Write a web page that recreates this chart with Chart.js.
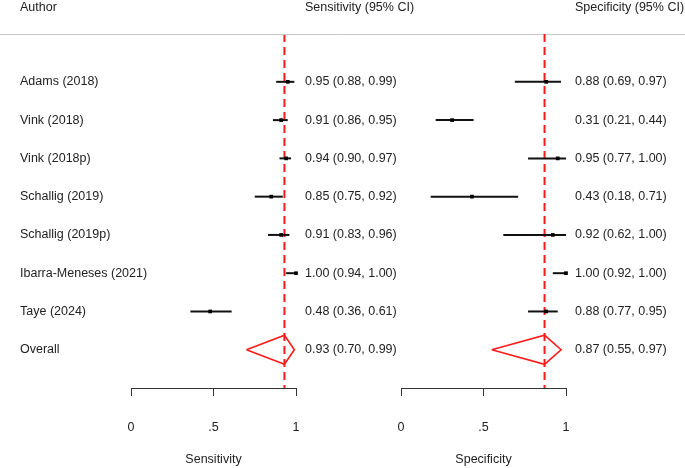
<!DOCTYPE html>
<html>
<head>
<meta charset="utf-8">
<script src="https://cdn.jsdelivr.net/npm/chart.js@4/dist/chart.umd.min.js"></script>
<style>
  html, body { margin: 0; padding: 0; background: #fff; }
  #wrap { position: relative; width: 685px; height: 468px; }
  #wrap canvas { position: absolute; left: 0; top: 0; }
</style>
</head>
<body>
<div id="wrap">
  <canvas id="sens" width="685" height="468"></canvas>
  <canvas id="spec" width="685" height="468"></canvas>
</div>
<script>
const authors = ['Adams (2018)', 'Vink (2018)', 'Vink (2018p)', 'Schallig (2019)',
    'Schallig (2019p)', 'Ibarra-Meneses (2021)', 'Taye (2024)'];
const overallLabel = 'Overall';

const sens = [0.95, 0.91, 0.94, 0.85, 0.91, 1.00, 0.48];
const sensLo = [0.88, 0.86, 0.90, 0.75, 0.83, 0.94, 0.36];
const sensHi = [0.99, 0.95, 0.97, 0.92, 0.96, 1.00, 0.61];
const sensPooled = [0.93, 0.70, 0.99];

const spec = [0.88, 0.31, 0.95, 0.43, 0.92, 1.00, 0.88];
const specLo = [0.69, 0.21, 0.77, 0.18, 0.62, 0.92, 0.77];
const specHi = [0.97, 0.44, 1.00, 0.71, 1.00, 1.00, 0.95];
const specPooled = [0.87, 0.55, 0.97];

const tickLabels = ['0', '.5', '1'];

const FAMILY = '"Liberation Sans", Arial, sans-serif';
const FONT = '12.5px ' + FAMILY;
const TEXT = '#222';
const fmt = v => v.toFixed(2);

// rows run 1..n for studies, n+1 for the pooled estimate, axis sits at n+2
const nRows = authors.length;
const rowOverall = nRows + 1;
const rowAxis = nRows + 2;
const rowTop = -0.25;

function textPlugin(est, lo, hi, pooled, header, withAuthors) {
    return {
        id: 'forestText',
        afterDraw(chart) {
            const {ctx, chartArea} = chart;
            const y = chart.scales.y;
            const xText = chartArea.right + 9;
            ctx.save();
            ctx.font = FONT;
            ctx.fillStyle = TEXT;
            ctx.textBaseline = 'middle';
            ctx.textAlign = 'left';
            if (withAuthors) {
                ctx.strokeStyle = '#c8c8c8';
                ctx.lineWidth = 1;
                ctx.beginPath();
                ctx.moveTo(0, chartArea.top + 0.5);
                ctx.lineTo(chart.width, chartArea.top + 0.5);
                ctx.stroke();
                ctx.fillText('Author', 20, chartArea.top - 26);
                authors.forEach((a, i) => ctx.fillText(a, 20, y.getPixelForValue(i + 1)));
                ctx.fillText(overallLabel, 20, y.getPixelForValue(rowOverall));
            }
            ctx.fillText(header, xText, chartArea.top - 26);
            est.forEach((v, i) => {
                ctx.fillText(`${fmt(v)} (${fmt(lo[i])}, ${fmt(hi[i])})`, xText, y.getPixelForValue(i + 1));
            });
            ctx.fillText(`${fmt(pooled[0])} (${fmt(pooled[1])}, ${fmt(pooled[2])})`, xText,
                y.getPixelForValue(rowOverall));
            ctx.restore();
        }
    };
}

function makePanel(canvas, est, lo, hi, pooled, opts) {
    const [pe, pl, ph] = pooled;
    const h = 0.38;
    const datasets = [];

    est.forEach((v, i) => {
        datasets.push({
            data: [{x: lo[i], y: i + 1}, {x: hi[i], y: i + 1}],
            showLine: true, borderColor: '#111', borderWidth: 2,
            pointRadius: 0, clip: false, order: 1
        });
    });
    datasets.push({
        data: est.map((v, i) => ({x: v, y: i + 1})),
        pointStyle: 'rect', pointRadius: 2.6, backgroundColor: '#000',
        borderWidth: 0, clip: false, order: 0
    });
    datasets.push({
        data: [{x: pe, y: rowTop}, {x: pe, y: rowAxis}],
        showLine: true, borderColor: '#ff1a1a', borderWidth: 2, borderDash: [8, 5],
        pointRadius: 0, clip: false, order: 3
    });
    datasets.push({
        data: [{x: pl, y: rowOverall}, {x: pe, y: rowOverall - h}, {x: ph, y: rowOverall},
            {x: pe, y: rowOverall + h}, {x: pl, y: rowOverall}],
        showLine: true, borderColor: '#ff1a1a', borderWidth: 1.6, fill: false,
        pointRadius: 0, clip: false, order: 1, tension: 0
    });

    return new Chart(canvas, {
        type: 'scatter',
        data: {datasets},
        options: {
            responsive: false,
            animation: false,
            events: [],
            layout: {padding: opts.padding},
            plugins: {legend: {display: false}, tooltip: {enabled: false}},
            scales: {
                y: {type: 'linear', min: rowTop, max: rowAxis, reverse: true, display: false},
                x: {
                    type: 'linear', min: 0, max: 1,
                    border: {display: true, color: '#333', width: 1},
                    grid: {drawOnChartArea: false, drawTicks: true, tickLength: 8, color: '#333'},
                    ticks: {
                        stepSize: 0.5, padding: 24, color: TEXT,
                        font: {family: FAMILY, size: 12.5},
                        callback: (v, i) => tickLabels[i]
                    },
                    title: {
                        display: true, text: opts.title, color: TEXT,
                        font: {family: FAMILY, size: 12.5},
                        padding: {top: -7, bottom: 1}
                    }
                }
            }
        },
        plugins: [textPlugin(est, lo, hi, pooled, opts.header, opts.withAuthors)]
    });
}

makePanel(document.getElementById('sens'), sens, sensLo, sensHi, sensPooled, {
    padding: {left: 131, right: 389, top: 34, bottom: 0},
    title: 'Sensitivity', header: 'Sensitivity (95% CI)', withAuthors: true
});
makePanel(document.getElementById('spec'), spec, specLo, specHi, specPooled, {
    padding: {left: 401, right: 119, top: 34, bottom: 0},
    title: 'Specificity', header: 'Specificity (95% CI)', withAuthors: false
});
</script>
</body>
</html>
